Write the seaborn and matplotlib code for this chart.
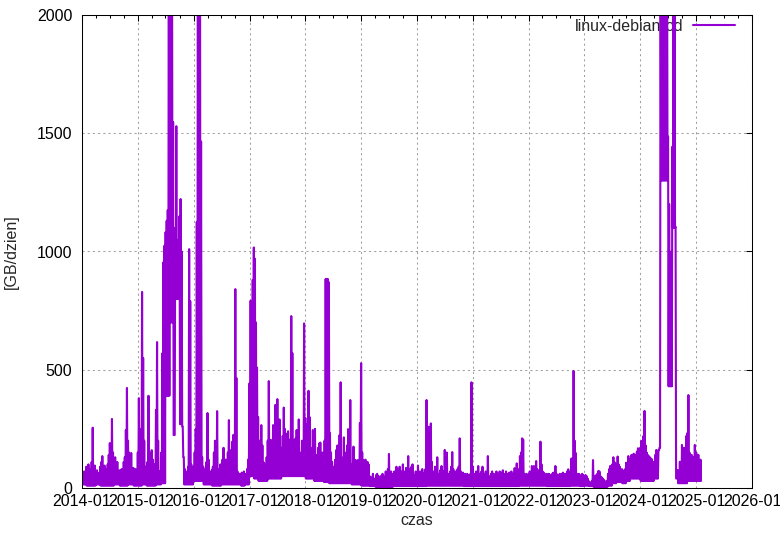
import numpy as np
import pandas as pd
import matplotlib
matplotlib.use("Agg")
import matplotlib.pyplot as plt
import matplotlib.dates as mdates
import seaborn as sns

years = [2014, 2015, 2016, 2017, 2018, 2019, 2020, 2021, 2022, 2023, 2024, 2025]

peaks_2014 = [60, 45, 70, 55, 90, 60, 100, 70, 80, 110, 255, 90, 95, 60, 75, 50, 65, 90, 110, 135,
              80, 95, 60, 80, 100, 140, 190, 110, 292, 150, 90, 130, 80, 110, 60, 75, 55, 80, 70, 110,
              130, 245, 423, 200, 150, 110, 148, 70, 85, 60, 80, 70]
peaks_2015 = [150, 380, 250, 200, 829, 550, 200, 90, 60, 110, 390, 150, 80, 160, 120, 70, 100, 330, 617, 200,
              70, 60, 150, 570, 955, 1025, 1082, 1130, 1175, 2600, 2600, 2500, 2300, 1547, 224, 1100, 1530, 1000, 1050, 1150,
              1222, 1000, 260, 130, 80, 60, 70, 90, 1010, 790, 100, 80]
peaks_2016 = [90, 150, 250, 1125, 2500, 2600, 2400, 1465, 130, 90, 60, 80, 110, 317, 120, 70, 60, 75, 90, 150,
              200, 130, 325, 60, 80, 100, 90, 120, 170, 90, 120, 70, 150, 287, 160, 120, 195, 224, 110, 841,
              465, 70, 55, 60, 50, 65, 55, 70, 60, 50, 80, 120]
peaks_2017 = [443, 792, 300, 880, 1017, 970, 700, 509, 300, 200, 150, 266, 180, 110, 100, 90, 130, 200, 452, 150,
              203, 130, 266, 200, 351, 250, 376, 200, 290, 150, 170, 220, 340, 250, 190, 230, 240, 180, 205, 727,
              570, 200, 170, 210, 245, 200, 290, 150, 110, 200, 150, 696]
peaks_2018 = [296, 270, 150, 411, 300, 170, 169, 245, 140, 250, 140, 120, 170, 189, 192, 126, 150, 100, 200, 884,
              884, 884, 870, 232, 150, 110, 90, 80, 120, 161, 180, 120, 224, 447, 130, 110, 214, 150, 140, 180,
              249, 160, 372, 100, 80, 175, 120, 118, 100, 118, 90, 275]
peaks_2019 = [528, 150, 118, 100, 120, 90, 110, 100, 50, 40, 45, 60, 40, 30, 55, 60, 50, 45, 50, 40,
              60, 50, 40, 70, 50, 80, 144, 60, 70, 55, 60, 70, 55, 90, 65, 80, 90, 60, 70, 100,
              55, 70, 85, 60, 135, 80, 70, 90, 100, 55, 40, 70]
peaks_2020 = [60, 95, 50, 70, 60, 80, 50, 65, 80, 372, 150, 259, 100, 273, 110, 70, 60, 90, 70, 130,
              60, 50, 76, 93, 60, 70, 161, 100, 150, 60, 50, 70, 90, 152, 80, 60, 70, 50, 80, 90,
              210, 70, 60, 65, 50, 60, 45, 60, 50, 55, 60, 447]
peaks_2021 = [90, 60, 55, 70, 65, 93, 60, 50, 70, 90, 60, 55, 70, 60, 135, 50, 45, 60, 70, 60,
              55, 60, 70, 60, 55, 70, 60, 65, 75, 60, 55, 70, 60, 50, 65, 60, 70, 55, 60, 84,
              70, 104, 80, 70, 135, 150, 210, 205, 60, 50, 60, 55]
peaks_2022 = [60, 70, 55, 93, 80, 93, 70, 114, 80, 70, 75, 196, 100, 70, 65, 60, 55, 60, 50, 60,
              55, 50, 60, 65, 55, 93, 60, 55, 50, 60, 55, 60, 65, 50, 60, 55, 70, 79, 60, 70,
              125, 80, 495, 200, 148, 60, 55, 60, 55, 50, 60, 55]
peaks_2023 = [50, 55, 50, 40, 30, 25, 20, 30, 118, 50, 40, 55, 60, 72, 70, 50, 45, 40, 35, 30,
              25, 30, 60, 80, 93, 90, 100, 130, 110, 90, 100, 133, 100, 90, 70, 80, 60, 75, 80, 107,
              100, 135, 120, 110, 140, 130, 145, 130, 140, 154, 168, 160]
peaks_2024 = [170, 199, 180, 220, 326, 180, 150, 140, 135, 130, 125, 121, 110, 100, 140, 161, 150, 160, 170, 2500,
              1320, 2500, 1320, 2500, 1486, 2500, 1486, 1200, 750, 1000, 1443, 2500, 2500, 1105, 40, 76, 60, 111, 100, 182,
              160, 170, 161, 220, 232, 393, 150, 130, 140, 120, 130, 182]
peaks_2025 = [150, 130, 140, 118, 120]

lows_2014 = [15, 10, 10, 15, 10, 10, 10, 15, 10, 10, 15, 10]
lows_2015 = [10, 15, 10, 10, 15, 20, 390, 700, 800, 270, 15, 15]
lows_2016 = [30, 30, 15, 15, 10, 10, 15, 15, 15, 15, 10, 15]
lows_2017 = [50, 40, 30, 30, 40, 40, 40, 50, 50, 50, 50, 50]
lows_2018 = [40, 40, 30, 30, 25, 20, 20, 20, 20, 20, 15, 15]
lows_2019 = [10, 10, 8, 5, 5, 5, 5, 8, 8, 8, 8, 8]
lows_2020 = [8, 8, 10, 10, 10, 10, 10, 10, 10, 10, 8, 8]
lows_2021 = [8, 8, 8, 8, 8, 8, 8, 8, 8, 8, 10, 10]
lows_2022 = [10, 10, 10, 10, 8, 8, 8, 8, 8, 10, 10, 8]
lows_2023 = [10, 8, 5, 5, 5, 10, 20, 25, 20, 30, 40, 40]
lows_2024 = [30, 30, 30, 40, 1300, 1300, 430, 1100, 20, 20, 30, 30]
lows_2025 = [30]

peaks = dict(zip(years, [peaks_2014, peaks_2015, peaks_2016, peaks_2017, peaks_2018, peaks_2019,
                         peaks_2020, peaks_2021, peaks_2022, peaks_2023, peaks_2024, peaks_2025]))
lows = dict(zip(years, [lows_2014, lows_2015, lows_2016, lows_2017, lows_2018, lows_2019,
                        lows_2020, lows_2021, lows_2022, lows_2023, lows_2024, lows_2025]))

series_name = "linux-debian-cd"
x_label = "czas"
y_label = "[GB/dzien]"
y_ticks = [0, 500, 1000, 1500, 2000]

# ---- build the time series: weekly max followed by the mid-week minimum ----
week_dates, week_peaks = [], []
for y in years:
    d = pd.date_range(f"{y}-01-01", periods=len(peaks[y]), freq="7D")
    week_dates.extend(d)
    week_peaks.extend(peaks[y])

dates, vals = [], []
for i, (d, p) in enumerate(zip(week_dates, week_peaks)):
    dates.append(d)
    vals.append(p)
    nxt = week_peaks[i + 1] if i + 1 < len(week_peaks) else p
    td = d + pd.Timedelta(hours=84)
    low = lows[td.year][min(td.month - 1, len(lows[td.year]) - 1)]
    dates.append(td)
    vals.append(min(low, p, nxt))

df = pd.DataFrame({"czas": dates, "val": vals})

# ---- style ----
sns.set_style("white")
plt.rcParams["font.family"] = ["Liberation Sans", "DejaVu Sans"]
plt.rcParams["axes.linewidth"] = 0.75

FS = 11.5

fig = plt.figure(figsize=(7.8, 5.38), dpi=100)
ax = fig.add_axes([82 / 780, 50 / 538, 670 / 780, 473 / 538])

sns.lineplot(data=df, x="czas", y="val", ax=ax, color="#9400d3", linewidth=1.5,
             estimator=None, sort=False, label=series_name, legend=False)

ax.set_xlim(pd.Timestamp("2014-01-01"), pd.Timestamp("2026-01-01"))
ax.set_ylim(0, 2000)
ax.set_yticks(y_ticks)
ax.xaxis.set_major_locator(mdates.YearLocator())
ax.xaxis.set_major_formatter(mdates.DateFormatter("%Y-%m"))
ax.xaxis.set_minor_locator(mdates.MonthLocator(bymonth=[4, 7, 10]))

for s in ax.spines.values():
    s.set_color("black")
    s.set_linewidth(0.75)

ax.tick_params(which="both", direction="in", top=True, right=True, colors="black", width=0.75)
ax.tick_params(which="major", length=4.5)
ax.tick_params(which="minor", length=2.5)
ax.tick_params(axis="x", which="major", labelsize=FS, pad=4)
ax.tick_params(axis="y", which="major", labelsize=FS, pad=7)

ax.grid(True, which="major", color="#a0a0a0", linestyle=(0, (2, 3)), linewidth=0.75)
ax.set_axisbelow(True)

ax.set_xlabel(x_label, fontsize=FS)
ax.set_ylabel(y_label, fontsize=FS)
ax.xaxis.set_label_coords(0.5, -0.053)
ax.yaxis.set_label_coords(-0.094, 0.5)

leg = ax.legend(loc="upper right", bbox_to_anchor=(0.9746, 0.9915), frameon=False,
                markerfirst=False, handlelength=2.6, handletextpad=0.6,
                borderpad=0, borderaxespad=0, fontsize=FS)
leg.set_zorder(1)

fig.savefig("out.png", dpi=100)
